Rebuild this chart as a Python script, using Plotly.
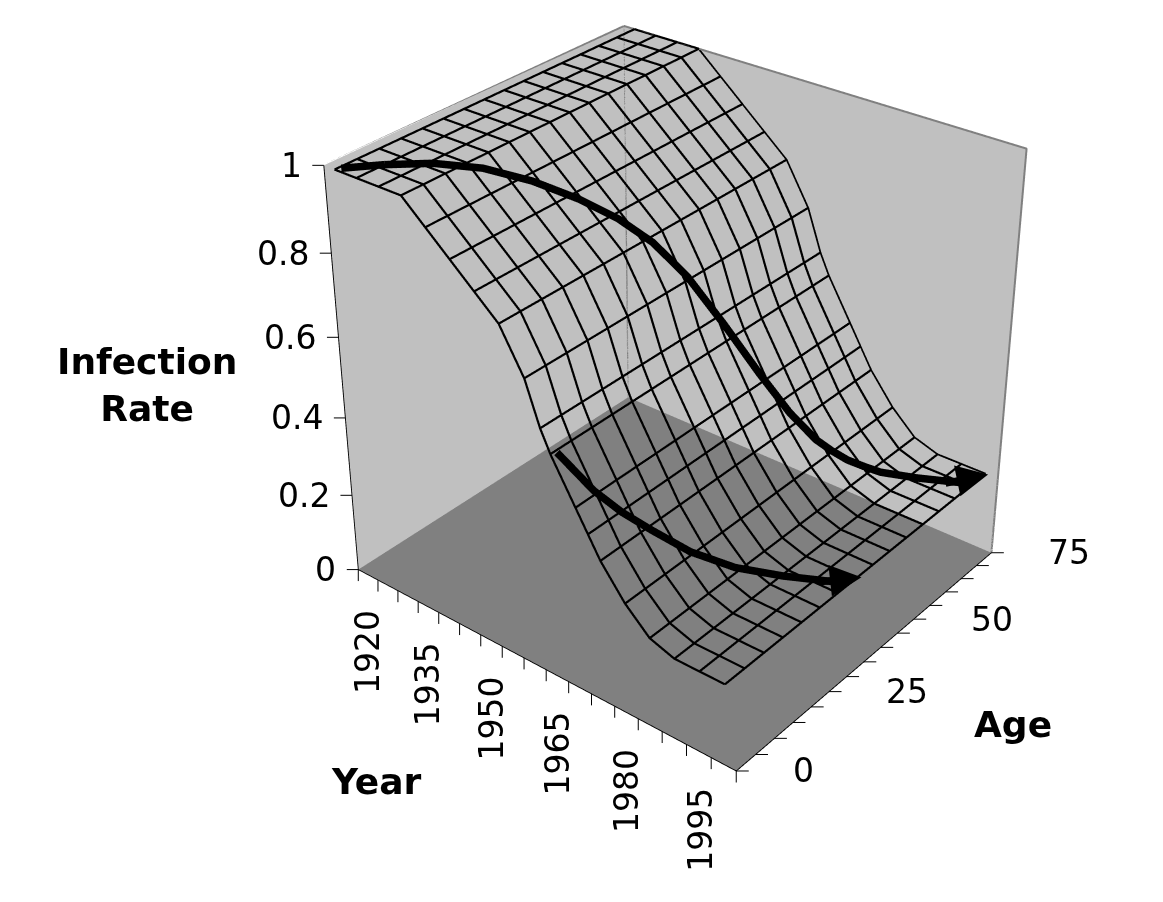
import plotly.graph_objects as go

# ---- data ----
years = [1917.5, 1922.5, 1927.5, 1932.5, 1937.5, 1942.5, 1947.5, 1952.5, 1957.5, 1960.5,
         1962.5, 1967.5, 1970, 1972.5, 1977.5, 1982.5, 1987.5, 1992.5, 1997.5]
ages = [0, 5, 10, 15, 20, 25, 30, 35, 40, 45, 50, 55, 60, 65, 70, 75]
rate_by_year = [1.00, 1.00, 1.00, 1.00, 0.95, 0.90, 0.85, 0.80, 0.70, 0.60,
                0.55, 0.45, 0.40, 0.35, 0.275, 0.22, 0.20, 0.20, 0.20]
cohort1_year = [1918,1922.5,1928,1933.5,1938.5,1943.5,1948.25,1950.5,1952.75,1954.9,1957,1961.5,1966.75,1971.5,1975.5,1977.6,1979.75,1981.9,1984,1986.5,1989,1996]
cohort1_age = [1,6.25,11.75,17.5,23.75,29.5,33.75,35.5,37.25,39.25,41.25,45.5,49,51.5,54,55.9,57.75,59.9,62,64,66,70]
cohort1_rate = [1.00,1.00,0.9975,0.98,0.94,0.89,0.8425,0.815,0.7875,0.745,0.7025,0.585,0.465,0.375,0.31,0.28,0.255,0.235,0.2175,0.21,0.2025,0.20]
cohort2_year = [1963,1967.25,1970,1973,1977.5,1982.5,1988.25,1995]
cohort2_age = [1,4.75,8.25,12,16.5,22,27.5,32]
cohort2_rate = [0.55,0.4575,0.3975,0.345,0.285,0.235,0.2075,0.20]
arrow_year = [1998, 1998]
arrow_age = [75, 36]
arrow_rate = [0.20, 0.20]
year_ticks = list(range(1915, 2001, 5))
year_labels = [1920, 1935, 1950, 1965, 1980, 1995]
age_ticks = list(range(0, 76, 5))
age_labels = [0, 25, 50, 75]
rate_ticks = [0, .2, .4, .6, .8, 1]
rate_labels = ["0", "0.2", "0.4", "0.6", "0.8", "1"]

W, H = 1200, 1836
SHIFT = 608
FONT = "DejaVu Sans"
BLACK = "#000000"
YEAR_END = 1999.99  # just inside the axis range, where scene annotations stay visible

# wire mesh
wx, wy, wz = [], [], []
for yr, r in zip(years, rate_by_year):
    wx += [yr]*len(ages) + [None]; wy += ages + [None]; wz += [r]*len(ages) + [None]
for a in ages:
    wx += years + [None]; wy += [a]*len(years) + [None]; wz += rate_by_year + [None]

fig = go.Figure()
fig.add_trace(go.Scatter3d(x=[1915,1915,2000,2000], y=[0,75,75,75], z=[1,1,1,0],
                           mode="lines", line=dict(color="#808080", width=4), hoverinfo="skip", showlegend=False))
fig.add_trace(go.Scatter3d(x=[1915,1915], y=[75,75], z=[0,1],
                           mode="lines", line=dict(color="#808080", width=10), hoverinfo="skip", showlegend=False))
fig.add_trace(go.Scatter3d(x=wx, y=wy, z=wz, mode="lines", line=dict(color=BLACK, width=4.4),
                           name="Infection rate", hoverinfo="skip", showlegend=False))
for yy, aa, rr in ((cohort1_year, cohort1_age, cohort1_rate), (cohort2_year, cohort2_age, cohort2_rate)):
    fig.add_trace(go.Scatter3d(x=yy, y=aa, z=rr, mode="lines", line=dict(color=BLACK, width=15),
                               hoverinfo="skip", showlegend=False))

def axis(rng, vals, bg):
    return dict(range=rng, tickmode="array", tickvals=vals, ticks="", showticklabels=False,
                showgrid=False, zeroline=False, showline=True, linecolor=BLACK, linewidth=2,
                showbackground=True, backgroundcolor=bg, showspikes=False, title=dict(text=""))

def ann(text, px, py):
    return dict(text=text, x=(px-8)/W, y=1-(py-8+SHIFT)/H, xref="paper", yref="paper", xanchor="center", yanchor="middle",
                showarrow=False, font=dict(family=FONT, size=36, color=BLACK, weight="bold"), align="center")

def tick(x, y, z, ax, ay):
    return dict(x=x, y=y, z=z, text="", showarrow=True, arrowhead=0, arrowwidth=1, arrowcolor=BLACK,
                ax=ax, ay=ay, standoff=0)

def label(x, y, z, text, **kw):
    return dict(x=x, y=y, z=z, text=text, showarrow=False, font=dict(family=FONT, size=33, color=BLACK), **kw)

marks = []
marks += [tick(min(v, YEAR_END), 0, 0, 0, 13) for v in year_ticks]
marks += [tick(YEAR_END, v, 0, 14, 0) for v in age_ticks]
marks += [tick(1915, 0, v, -13, 0) for v in rate_ticks]
marks += [label(v, 0, 0, str(v), textangle=-90, xshift=-11, yshift=-72) for v in year_labels]
marks += [label(YEAR_END, v, 0, str(v), xanchor="left", xshift=55) for v in age_labels]
marks += [label(1915, 0, v, t, xanchor="right", xshift=-20) for v, t in zip(rate_ticks, rate_labels)]
for ay_, (x, y, z) in zip((9, 5), zip(arrow_year, arrow_age, arrow_rate)):
    marks.append(dict(x=x, y=y, z=z, text="", showarrow=True, arrowhead=2, arrowwidth=7, arrowsize=0.9,
                      arrowcolor=BLACK, ax=-44, ay=ay_, standoff=0))

fig.update_layout(
    width=W, height=H, autosize=False, margin=dict(l=0, r=0, t=0, b=0), paper_bgcolor="#ffffff",
    showlegend=False,
    scene=dict(
        domain=dict(x=[0,1], y=[0,1]), dragmode="orbit",
        xaxis=axis([1915,2000], year_ticks, "#c0c0c0"),
        yaxis=axis([0,75], age_ticks, "#c0c0c0"),
        zaxis=axis([0,1], rate_ticks, "#808080"),
        aspectmode="manual", aspectratio=dict(x=1.061, y=0.944, z=1),
        camera=dict(eye=dict(x=2.531, y=-3.168, z=2.424), center=dict(x=-0.145, y=-0.050, z=0.097),
                    up=dict(x=0.009, y=0.011, z=1), projection=dict(type="perspective")),
        annotations=marks,
    ),
    annotations=[ann("Infection<br>Rate", 147, 385), ann("Year", 376, 781), ann("Age", 1013, 724)],
)
lift = ("var gd=document.getElementById('{plot_id}');gd.style.position='relative';gd.style.top='-%dpx';"
        "document.documentElement.style.overflow='hidden';" % SHIFT)
fig.write_html("out.html", post_script=lift)
